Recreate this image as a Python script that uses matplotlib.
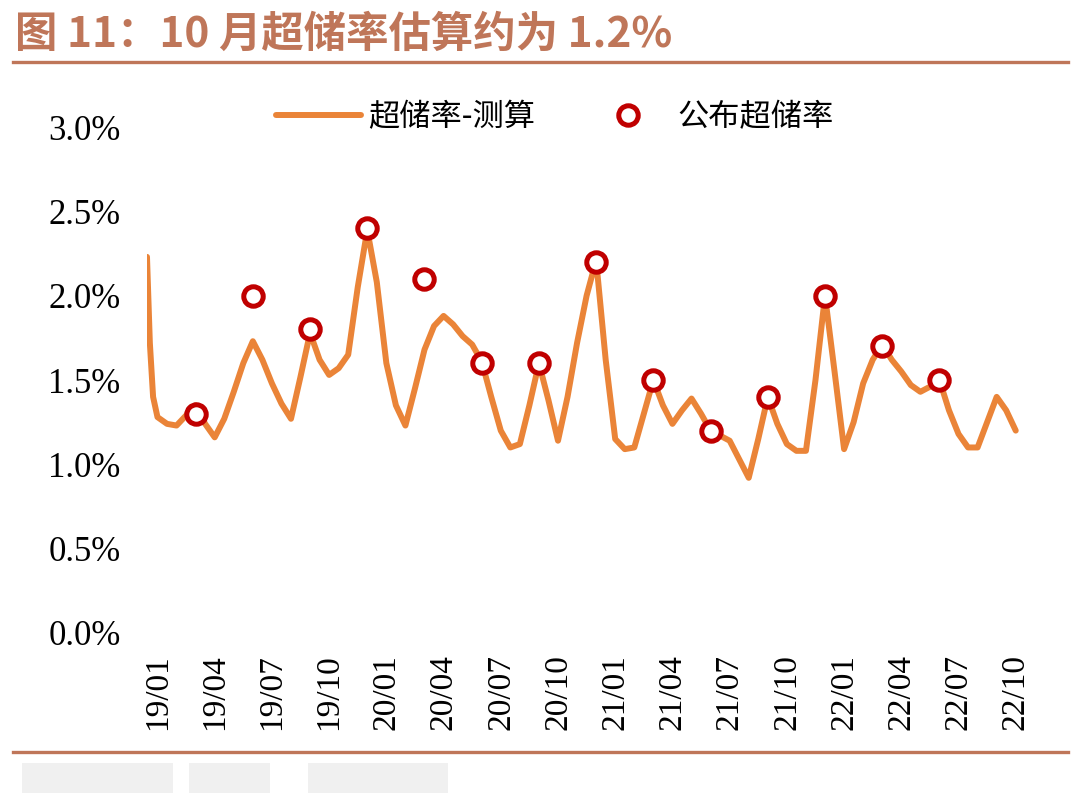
import matplotlib
matplotlib.use("Agg")
import matplotlib.pyplot as plt
from matplotlib.lines import Line2D
from matplotlib.patches import Rectangle
from matplotlib.ticker import FuncFormatter

# month offset from 2019-01 and estimated excess reserve ratio (%)
line_m = [-0.55, -0.4, -0.23, 0.0, 0.5, 1.0, 1.5, 2.0, 2.5, 3.0, 3.5, 4.0, 4.5, 5.0,
          5.5, 6.0, 6.5, 7.0, 7.5, 8.0, 8.5, 9.0, 9.5, 10.0, 10.5, 11.0, 11.5, 12.0,
          12.5, 13.0, 13.5, 14.0, 14.5, 15.0, 15.5, 16.0, 16.5, 17.0, 17.5, 18.0,
          18.5, 19.0, 19.5, 20.0, 20.5, 21.0, 21.5, 22.0, 22.5, 23.0, 23.5, 24.0,
          24.5, 25.0, 25.5, 26.0, 26.5, 27.0, 27.5, 28.0, 28.5, 29.0, 29.5, 30.0,
          30.5, 31.0, 31.5, 32.0, 32.5, 33.0, 33.5, 34.0, 34.5, 35.0, 35.5, 36.0,
          36.5, 37.0, 37.5, 38.0, 38.5, 39.0, 39.5, 40.0, 40.5, 41.0, 41.5, 42.0,
          42.5, 43.0, 43.5, 44.0, 44.5, 45.0]
line_v = [2.23, 1.72, 1.40, 1.28, 1.24, 1.23, 1.29, 1.35, 1.24, 1.16, 1.27, 1.43, 1.60, 1.73,
          1.62, 1.48, 1.36, 1.27, 1.52, 1.78, 1.62, 1.53, 1.57, 1.65, 2.05, 2.39, 2.08, 1.60,
          1.35, 1.23, 1.45, 1.68, 1.82, 1.88, 1.83, 1.76, 1.71, 1.61, 1.40, 1.20,
          1.10, 1.12, 1.35, 1.60, 1.38, 1.14, 1.40, 1.72, 2.00, 2.21, 1.62, 1.15,
          1.09, 1.10, 1.30, 1.50, 1.35, 1.24, 1.32, 1.39, 1.30, 1.20, 1.17, 1.14,
          1.03, 0.92, 1.15, 1.40, 1.24, 1.12, 1.08, 1.08, 1.50, 2.00, 1.55, 1.09,
          1.25, 1.48, 1.62, 1.71, 1.62, 1.55, 1.47, 1.43, 1.46, 1.50, 1.32, 1.18,
          1.10, 1.10, 1.25, 1.40, 1.32, 1.20]

pub_m = [2, 5, 8, 11, 14, 17, 20, 23, 26, 29, 32, 35, 38, 41]
pub_v = [1.3, 2.0, 1.8, 2.4, 2.1, 1.6, 1.6, 2.2, 1.5, 1.2, 1.4, 2.0, 1.7, 1.5]

tick_m = list(range(0, 46, 3))
tick_labels = ["19/01", "19/04", "19/07", "19/10", "20/01", "20/04", "20/07", "20/10",
               "21/01", "21/04", "21/07", "21/10", "22/01", "22/04", "22/07", "22/10"]

cjk = ["Noto Sans CJK SC", "DejaVu Sans"]
serif = ["Liberation Serif", "DejaVu Serif"]
accent = "#BF7659"

fig = plt.figure(figsize=(10.8, 8.08), dpi=100)
ax = fig.add_axes([0.1361, 0.2166, 0.8097, 0.6262])

ax.plot(line_m, line_v, color="#EA8438", lw=4.3, solid_capstyle="round",
        solid_joinstyle="round", label="超储率-测算", zorder=2)
ax.plot(pub_m, pub_v, ls="none", marker="o", ms=14, mfc="white", mec="#C00000",
        mew=3.6, label="公布超储率", zorder=3)

ax.set_xlim(-0.55, 45.3)
ax.set_ylim(0, 3.0)
ax.set_yticks([0, 0.5, 1.0, 1.5, 2.0, 2.5, 3.0])
ax.yaxis.set_major_formatter(FuncFormatter(lambda v, p: f"{v:.1f}%"))
ax.set_xticks(tick_m)
ax.set_xticklabels(tick_labels, rotation=90)
for lab in ax.get_yticklabels():
    lab.set_fontfamily(serif)
    lab.set_fontsize(25)
for lab in ax.get_xticklabels():
    lab.set_fontfamily(serif)
    lab.set_fontsize(24)
ax.tick_params(axis="y", length=0, pad=19)
ax.tick_params(axis="x", length=0, pad=15)
for s in ax.spines.values():
    s.set_visible(False)

ax.legend(loc="center", bbox_to_anchor=(0.514, 0.855), bbox_transform=fig.transFigure,
          ncol=2, frameon=False, prop={"family": cjk, "size": 22.5, "weight": "light"},
          handlelength=2.7, handletextpad=0.25, columnspacing=1.6)

fig.text(0.014, 0.9567, "图 11：10 月超储率估算约为 1.2%", color=accent, fontsize=30.5,
         fontweight="bold", family=cjk, va="center", ha="left")
fig.add_artist(Line2D([0.012, 0.989], [0.9233, 0.9233], color=accent, lw=2.4,
                      transform=fig.transFigure))
fig.add_artist(Line2D([0.012, 0.989], [0.0693, 0.0693], color=accent, lw=2.4,
                      transform=fig.transFigure))

# blurred source note
for x0, w in [(0.02, 0.14), (0.175, 0.075), (0.285, 0.13)]:
    fig.add_artist(Rectangle((x0, 0.018), w, 0.038, transform=fig.transFigure,
                             color="#EDEDED", alpha=0.8, lw=0))

fig.savefig("out.png", dpi=100)
